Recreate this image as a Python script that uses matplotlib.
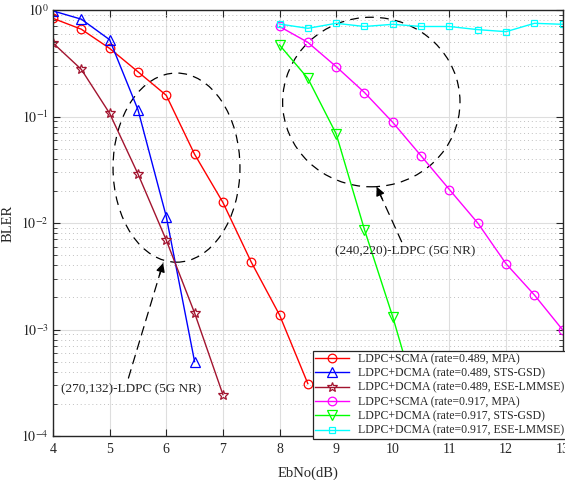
import matplotlib
matplotlib.use("Agg")
import matplotlib.pyplot as plt
from matplotlib.patches import Ellipse
from matplotlib.ticker import LogLocator, FixedLocator, NullFormatter
import numpy as np

plt.rcParams['font.family'] = ['Liberation Serif', 'DejaVu Serif']
plt.rcParams['mathtext.fontset'] = 'stix'

# ---- data ----
x_489 = [4, 4.5, 5, 5.5, 6, 6.5, 7, 7.5, 8, 8.5]
scma_489_mpa = [0.835, 0.66, 0.436, 0.263, 0.158, 0.0442, 0.0156, 0.0043, 0.00137, 3.1e-4]

x_489_sts = [4, 4.5, 5, 5.5, 6, 6.5]
dcma_489_sts = [0.98, 0.82, 0.526, 0.116, 0.0115, 5.0e-4]

x_489_ese = [4, 4.5, 5, 5.5, 6, 6.5, 7]
dcma_489_ese = [0.49, 0.277, 0.107, 0.0289, 0.0069, 0.00143, 2.45e-4]

x_917 = [8, 8.5, 9, 9.5, 10, 10.5, 11, 11.5, 12, 12.5, 13]
scma_917_mpa = [0.70, 0.497, 0.294, 0.168, 0.088, 0.0427, 0.0206, 0.0100, 0.00414, 0.00211, 0.00099]

x_917_sts = [8, 8.5, 9, 9.5, 10, 10.5]
dcma_917_sts = [0.469, 0.228, 0.0687, 0.00865, 0.00131, 1.6e-4]

dcma_917_ese = [0.738, 0.673, 0.75, 0.70, 0.734, 0.70, 0.70, 0.654, 0.626, 0.75, 0.734]

labels = [
    'LDPC+SCMA (rate=0.489, MPA)',
    'LDPC+DCMA (rate=0.489, STS-GSD)',
    'LDPC+DCMA (rate=0.489, ESE-LMMSE)',
    'LDPC+SCMA (rate=0.917, MPA)',
    'LDPC+DCMA (rate=0.917, STS-GSD)',
    'LDPC+DCMA (rate=0.917, ESE-LMMSE)',
]
xticks = [4, 5, 6, 7, 8, 9, 10, 11, 12, 13]
annot_left = '(270,132)-LDPC (5G NR)'
annot_right = '(240,220)-LDPC (5G NR)'

fig = plt.figure(figsize=(5.65, 4.8), dpi=100)
ax = fig.add_axes([53/565, 44/480, 509.7/565, 426/480])

ms = 6.2
lw = 1.0
mew = 0.9
ax.semilogy(x_489, scma_489_mpa, '-o', color='#ff0000', mfc='none', ms=ms, lw=lw, mew=mew, label=labels[0])
ax.semilogy(x_489_sts, dcma_489_sts, '-^', color='#0000ff', mfc='none', ms=ms+0.8, lw=lw, mew=mew, label=labels[1])
ax.semilogy(x_489_ese, dcma_489_ese, '-*', color='#A2142F', mfc='none', ms=ms+1.2, lw=lw, mew=mew, label=labels[2])
ax.semilogy(x_917, scma_917_mpa, '-o', color='#ff00ff', mfc='none', ms=ms, lw=lw, mew=mew, label=labels[3])
ax.semilogy(x_917_sts, dcma_917_sts, '-v', color='#00ff00', mfc='none', ms=ms+0.8, lw=lw, mew=mew, label=labels[4])
ax.semilogy(x_917, dcma_917_ese, '-s', color='#00ffff', mfc='none', ms=ms-1.2, lw=lw, mew=mew, label=labels[5])

ax.set_xlim(4, 13)
ax.set_ylim(1e-4, 1)
ax.set_xticks(xticks)
ax.set_xticklabels([str(t) for t in xticks])
ax.yaxis.set_major_locator(FixedLocator([1e-4, 1e-3, 1e-2, 1e-1, 1]))
ax.set_yticklabels([r'$10^{-4}$', r'$10^{-3}$', r'$10^{-2}$', r'$10^{-1}$', r'$10^{0}$'])
ax.yaxis.set_minor_locator(LogLocator(base=10, subs=np.arange(2, 10), numticks=20))
ax.yaxis.set_minor_formatter(NullFormatter())

ax.grid(True, which='major', color='#dedede', linestyle='-', linewidth=0.8)
ax.grid(True, which='minor', axis='y', color='#c0c0c0', linestyle=(0, (1, 3)), linewidth=0.7)
ax.set_axisbelow(True)

ax.tick_params(which='both', direction='in', top=True, right=True, colors='#262626', labelcolor='#262626')
ax.tick_params(which='major', length=5, width=0.8, labelsize=10)
ax.tick_params(which='minor', length=3, width=0.6)
ax.tick_params(axis='x', pad=5)
ax.tick_params(axis='y', pad=3)
for s in ax.spines.values():
    s.set_color('#262626')
    s.set_linewidth(1.0)

ax.set_xlabel('EbNo(dB)', fontsize=10.5, color='#262626')
ax.set_ylabel('BLER', fontsize=10.5, color='#262626')
ax.xaxis.set_label_coords(0.5, -0.072)
ax.yaxis.set_label_coords(-0.075, 0.5)

dash = (0, (7, 5))
e1 = Ellipse((0.2423, 0.630), 0.249, 0.444, transform=ax.transAxes, fill=False,
             edgecolor='k', linestyle=dash, lw=0.9)
e2 = Ellipse((0.6245, 0.784), 0.348, 0.398, transform=ax.transAxes, fill=False,
             edgecolor='k', linestyle=dash, lw=0.9)
ax.add_patch(e1)
ax.add_patch(e2)

def dashed_arrow(tip, tail):
    ax.annotate('', xy=tip, xytext=tail, xycoords='axes fraction', textcoords='axes fraction',
                arrowprops=dict(arrowstyle='-', linestyle=dash, color='k', lw=0.9,
                                shrinkA=0, shrinkB=0))
    d = np.array(tip) - np.array(tail)
    d = d / np.linalg.norm(d) * 0.03
    ax.annotate('', xy=tip, xytext=tuple(np.array(tip) - d), xycoords='axes fraction',
                textcoords='axes fraction',
                arrowprops=dict(arrowstyle='-|>', color='k', lw=0.9, mutation_scale=13,
                                shrinkA=0, shrinkB=0))

dashed_arrow((0.216, 0.406), (0.148, 0.136))
dashed_arrow((0.635, 0.585), (0.684, 0.456))
ax.text(0.154, 0.110, annot_left, transform=ax.transAxes, ha='center', va='center',
        fontsize=9.5, color='#262626')
ax.text(0.690, 0.434, annot_right, transform=ax.transAxes, ha='center', va='center',
        fontsize=9.5, color='#262626')

leg = ax.legend(loc='lower left', bbox_to_anchor=(0.511, -0.006), borderaxespad=0,
                fontsize=8.5, handlelength=2.9, labelspacing=0.2, borderpad=0.15,
                handletextpad=0.7, fancybox=False, framealpha=1, edgecolor='#262626')
leg.get_frame().set_linewidth(0.9)
for t in leg.get_texts():
    t.set_color('#262626')

fig.savefig('out.png', dpi=100)
